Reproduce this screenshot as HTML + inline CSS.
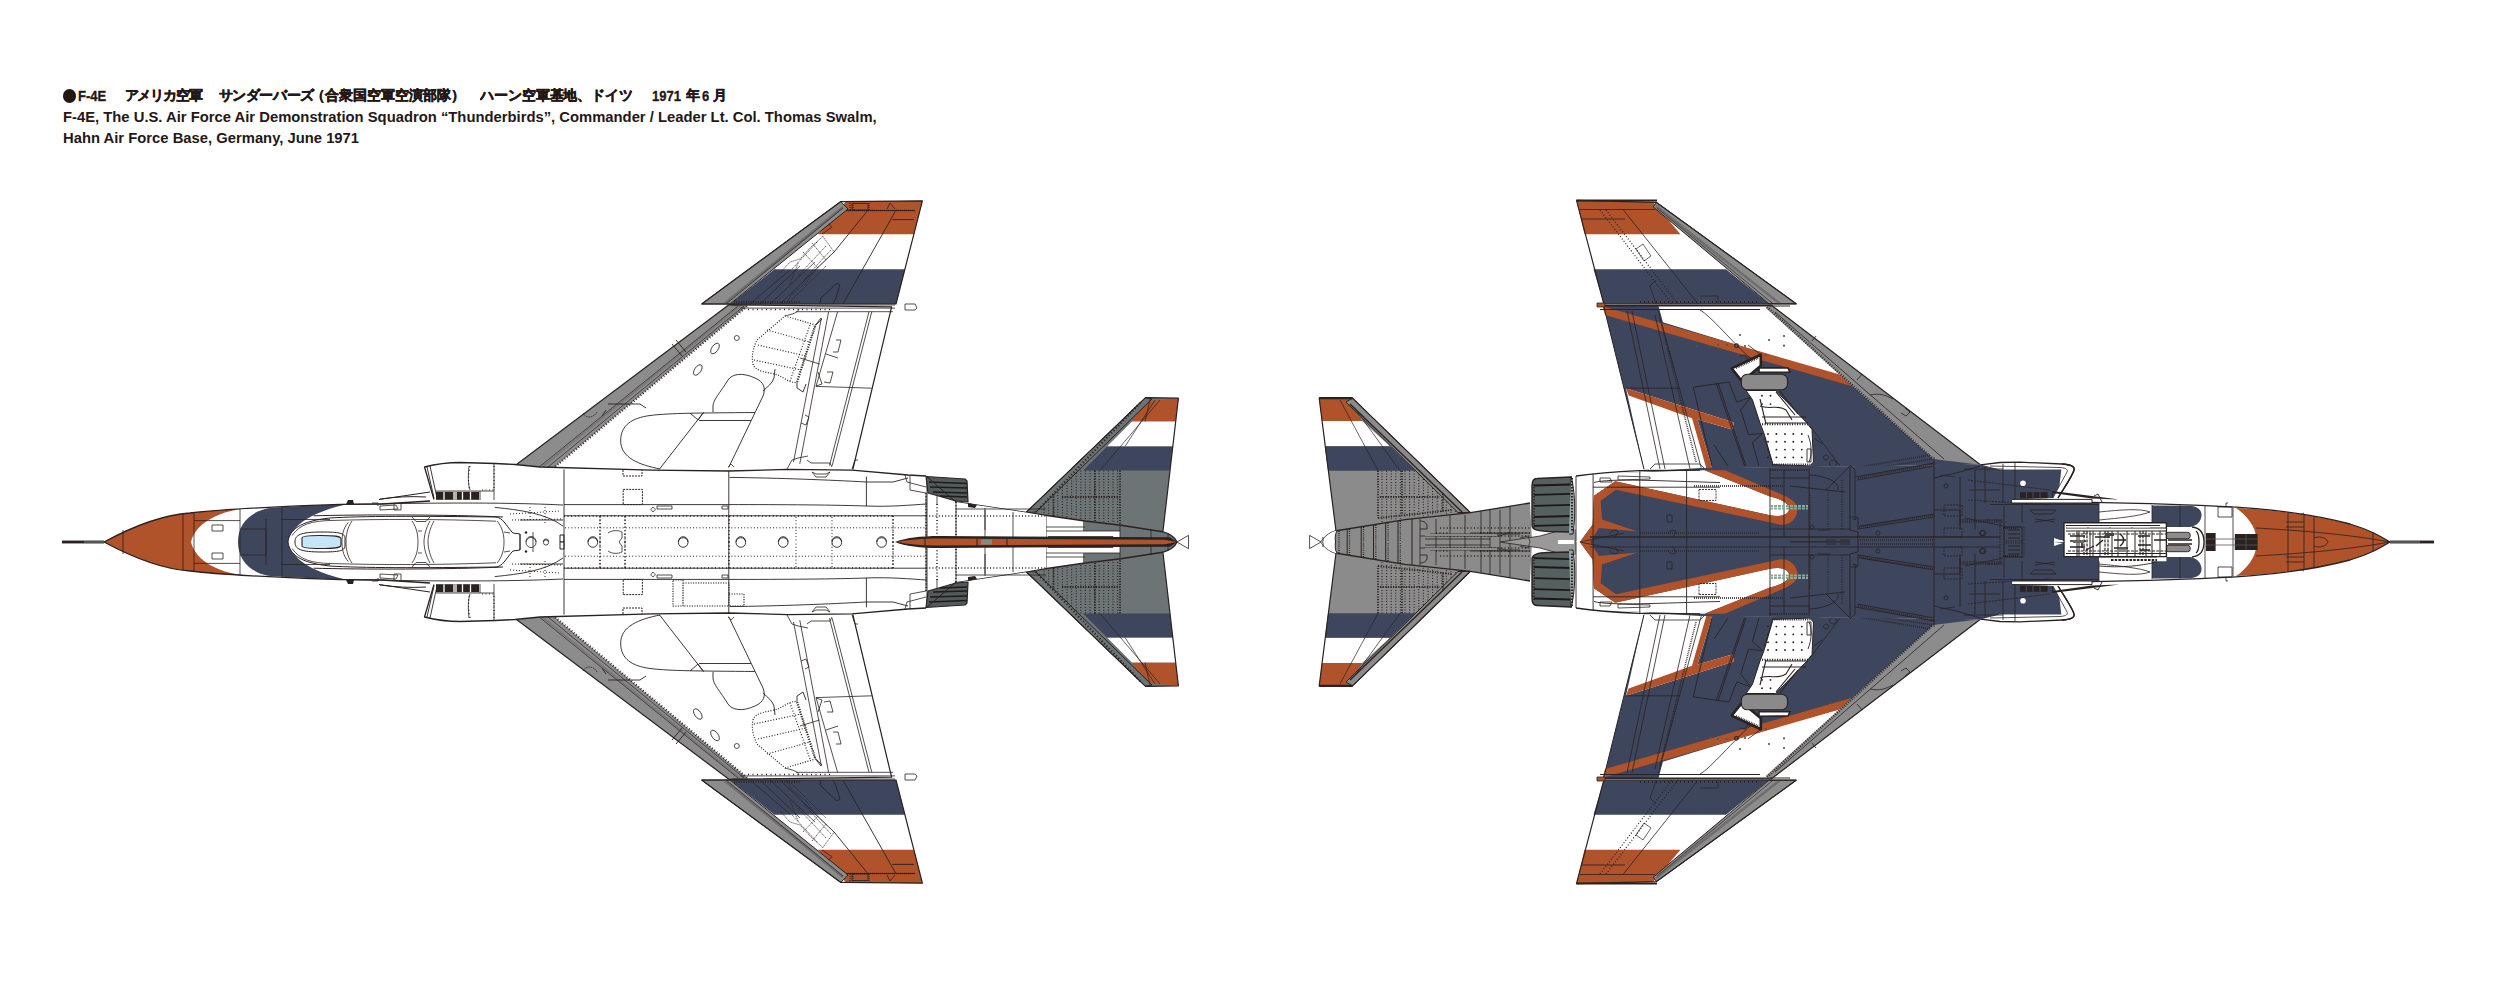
<!DOCTYPE html>
<html><head><meta charset="utf-8">
<style>
html,body{margin:0;padding:0;background:#fff;width:2500px;height:1000px;overflow:hidden}
.t{position:absolute;margin-top:1px;left:63px;font-family:"Liberation Sans",sans-serif;font-weight:bold;color:#231815;white-space:nowrap;font-size:14.8px;line-height:1}
svg{position:absolute;left:0;top:0}
.c{position:absolute;top:88.3px;-webkit-text-stroke:0.3px #231815;font-family:"Liberation Sans",sans-serif;font-weight:bold;color:#231815;white-space:nowrap;font-size:15.2px;line-height:1}
.j{position:absolute;top:88.2px;height:16px;overflow:hidden;-webkit-text-stroke:0.45px #231815;font-family:"Liberation Sans",sans-serif;font-weight:bold;color:#231815;white-space:nowrap;font-size:14px;line-height:1}
</style></head><body>
<div style="position:absolute;left:62.8px;top:89.2px;width:13.4px;height:13.4px;border-radius:50%;background:#231815"></div>
<div class="c" style="left:78px;width:29px"><span style="display:inline-block;transform:scaleX(0.86);transform-origin:0 0">F-4E</span></div>
<div class="j" style="left:124.5px;width:80px;letter-spacing:-1.1px">アメリカ空軍</div>
<div class="j" style="left:218.5px;width:98px;letter-spacing:-0.4px">サンダーバーズ</div>
<div class="j" style="left:311px;width:156px">（合衆国空軍空演部隊）</div>
<div class="j" style="left:480px;width:156px;letter-spacing:-0.1px">ハーン空軍基地、ドイツ</div>
<div class="c" style="left:651.5px"><span style="display:inline-block;transform:scaleX(0.86);transform-origin:0 0">1971</span></div>
<div class="j" style="left:686px;width:15px">年</div>
<div class="c" style="left:702px"><span style="display:inline-block;transform:scaleX(0.86);transform-origin:0 0">6</span></div>
<div class="j" style="left:712.5px;width:15px">月</div>
<div class="t" style="top:109px">F-4E, The U.S. Air Force Air Demonstration Squadron “Thunderbirds”, Commander / Leader Lt. Col. Thomas Swalm,</div>
<div class="t" style="top:130px">Hahn Air Force Base, Germany, June 1971</div>
<svg width="2500" height="1000" viewBox="0 0 2500 1000" stroke-linejoin="round">
<g id="LT"><polygon points="1026,512.5 1145.5,397.6 1178.4,398.2 1163,531 1177,542 1040,542" fill="#6d7476"/>
<polygon points="1141,402 1178.4,398.2 1175.6,421.6 1132,421.6" fill="#b0522a"/>
<polygon points="1132,421.6 1175.6,421.6 1172.6,446.5 1107,446.5" fill="#fff"/>
<polygon points="1107,446.5 1172.6,446.5 1169.8,470.5 1083,470.5" fill="#3e465e"/>
<polygon points="1026,512.5 1145.5,397.6 1152,399 1036,512" fill="#6d7476" stroke="#2a2221" stroke-width="1"/>
<path d="M1036,512 L1141,402" fill="none" stroke="#2a2221" stroke-width="2.2" stroke-dasharray="1.2 2.2"/>
<path d="M1044.0,506.6 V513.6 M1048.6,501.8 V514.3 M1053.2,497.0 V514.9 M1057.8,492.2 V515.6 M1062.4,487.3 V516.2 M1067.0,482.5 V516.9 M1071.6,477.7 V517.6 M1076.2,472.9 V518.2 M1080.8,470.5 V518.9 M1085.4,470.5 V519.5 M1090.0,470.5 V520.1 M1094.6,470.5 V520.6 M1099.2,470.5 V521.2 M1103.8,470.5 V521.7 M1108.4,470.5 V522.2 M1113.0,470.5 V522.8 M1117.6,470.5 V523.3" fill="none" stroke="#2a2221" stroke-width="1.1" stroke-dasharray="1 1.8"/>
<path d="M1053.6,494 V517 M1095,470.5 V522 M1120,470.5 V525 M1062,497 H1120 M1044,517 L1120,526" fill="none" stroke="#2a2221" stroke-width="1.8" stroke-dasharray="1.2 1.4"/>
<polyline points="1026,512.5 1145.5,397.6 1178.4,398.2 1163,531" fill="none" stroke="#2a2221" stroke-width="1.2"/>
<path d="M1145,421.6 L1150,399 M1125,446.5 L1155,400 M1100,470.5 L1160,400" fill="none" stroke="#2a2221" stroke-width="0.7"/>
<path d="M956,502 L1026,512.5 L1085,521 L1121,525.2 L1162.5,531.7 Q1174,535 1177,542 L1046,542 L1046,516.6 Z" fill="#fff"/>
<path d="M1083,520.9 L1121,525.2 L1162.5,531.7 Q1174,535 1177,542 L1120,542 L1120,531 L1083,531 Z" fill="#6d7476"/>
<path d="M956,502 L1026,512.5 L1085,521 L1121,525.2 L1162.5,531.7 Q1174,535 1177,542" fill="none" stroke="#2a2221" stroke-width="1.4"/>
<path d="M1046,516 V542 M1120,525 V542 M1151,529 V542 M1168,533 V542 M1046,531 H1120 M1048,536.5 H1113 L1115,542" fill="none" stroke="#2a2221" stroke-width="0.8"/>
<path d="M1177,542 L1188.5,535.3 L1188.5,542" fill="none" stroke="#2a2221" stroke-width="0.8"/>
<polygon points="701.6,304 840.8,201.6 922.4,200.8 896,304" fill="#fff"/>
<polygon points="846,201.6 922.4,200.8 914,234.4 817.6,234.4" fill="#b0522a"/>
<polygon points="817.6,234.4 914,234.4 905,269.3 774.4,269.3" fill="#fff"/>
<polygon points="774.4,269.3 905,269.3 896,304 730,304" fill="#3e465e"/>
<polygon points="701.6,304 840.8,201.6 848,209 730,304" fill="#8c8c8c" stroke="#2a2221" stroke-width="1"/>
<path d="M724,304 L843,207" fill="none" stroke="#6e6e6e" stroke-width="2.5"/>
<path d="M726,304 L843,208" fill="none" stroke="#2a2221" stroke-width="0.7"/>
<polyline points="701.6,304 840.8,201.6 922.4,200.8 896,304 701.6,304" fill="none" stroke="#2a2221" stroke-width="1.2"/>
<path d="M867.2,211.2 L833.6,252.6 M895.4,211.2 L843.2,303.6 M892.4,219.6 H914 M846,210.5 H915" fill="none" stroke="#2a2221" stroke-width="0.9"/>
<path d="M846,210.5 H915 M850,203 V210 M853,203 V210 M869,203 V210" fill="none" stroke="#2a2221" stroke-width="1.6" stroke-dasharray="0.8 1.2"/>
<path d="M852,203.5 H868 V210 H852 Z M887,209 L890,203 L895,209" fill="none" stroke="#2a2221" stroke-width="0.8"/>
<path d="M822.8,236.4 L834.2,252 L815,270 L806,283 L792,294 L786,304 M822.8,236.4 L810,248 L800,259 L790,262 L780,273 M812,243 L826,260 M803,252 L818,268 M817,242 L806,254 L792,269 M826,246 L812,261 L798,276 M831,250 L818,264 L804,280 M798,263 L790,284 M788,304 L826,266" fill="none" stroke="#2a2221" stroke-width="0.7" stroke-dasharray="1.4 0.7"/>
<path d="M780,304 L834,252 M770,304 L815,262 M760,304 L800,266 M750,304 L790,270" fill="none" stroke="#2a2221" stroke-width="0.7"/>
<path d="M833,304 L836,298 L840,285 L837,283 L821,298 L819.8,304" fill="none" stroke="#2a2221" stroke-width="0.9"/>
<path d="M734,302 L800,302" fill="none" stroke="#2a2221" stroke-width="2.2" stroke-dasharray="0.8 1.6"/>
<path d="M828.8,223.8 L831.8,227.4 L822,234" fill="none" stroke="#2a2221" stroke-width="0.8"/>
<path d="M905,304 H915 L917,308 L915,310 H905 Z" fill="#fff" stroke="#2a2221" stroke-width="0.8"/>
<polygon points="516.8,464.3 728.9,304.7 891.6,306.8 852.8,469.5" fill="#fff"/>
<polygon points="516.8,464.3 728.9,304.7 748,305.5 553,468.5" fill="#8c8c8c"/>
<path d="M541,468 L740,306" fill="none" stroke="#7a7a7a" stroke-width="2.2"/>
<path d="M538,468 L738,306 M548,467 L744,306" fill="none" stroke="#2a2221" stroke-width="0.7"/>
<path d="M553,468.5 L748,305.5" fill="none" stroke="#2a2221" stroke-width="2.4" stroke-dasharray="0.9 2.1"/>
<path d="M608,404 L640,404 L646,408 M602,416 L606,410 M672,344 L682,356 M676,340 L686,352" fill="none" stroke="#2a2221" stroke-width="0.9"/>
<path d="M583,413 C586,419 594,418 597,412" fill="none" stroke="#2a2221" stroke-width="0.8" stroke-dasharray="1.5 0.8"/>
<polyline points="516.8,464.3 728.9,304.7 891.6,306.8 852.8,469.5" fill="none" stroke="#2a2221" stroke-width="1.2"/>
<path d="M740.4,308.1 H895 M796,311.7 H893 M732,305 H895" fill="none" stroke="#2a2221" stroke-width="0.8"/>
<path d="M748,309.5 H830" fill="none" stroke="#2a2221" stroke-width="1.5" stroke-dasharray="1 3.5"/>
<path d="M821.4,318 L793.5,462 M828.6,311.7 L799.8,463.8 M869,311.7 L829.5,465.6 M871.8,311.7 L832.2,465.6 M837.6,311.7 L816,386.4 M816,386.4 L871.8,388.2 M826,354 L838,358" fill="none" stroke="#2a2221" stroke-width="0.8"/>
<path d="M807,460 L811,463 L830,463 L832,467 M836,340 L841,340 L838,352 L833,352 M827,372 L833,372 L830,383 L824,382 M805,415 L809,417 L806,425 L801,423" fill="none" stroke="#2a2221" stroke-width="0.8"/>
<path d="M660,469 C640,465 620,458 620.7,440 C621,425 632,418 650,415.5 C670,413 700,413 754.8,412.5 M703.5,412.5 L659.4,469.2 M690,413 L698,420 L703.5,412.5 M699,420.5 H751" fill="none" stroke="#2a2221" stroke-width="0.9"/>
<path d="M713,412 V406 C713,400 720,393 728,380 C732,374 742,372 755,378 C764,382 766,388 763,396 L728.7,467.4" fill="none" stroke="#2a2221" stroke-width="0.9"/>
<path d="M763,391 C768,386 772,384 774,378 L775,369" fill="none" stroke="#2a2221" stroke-width="0.9"/>
<path d="M728,467 L731,464 L734,467" fill="none" stroke="#2a2221" stroke-width="0.8"/>
<path d="M785,316 L815.5,325 L797,382.5 C790,383 784,378 778,375 C768,372 755,372 753,364 C751,355 754,346 757,340 Z" fill="none" stroke="#2a2221" stroke-width="1.2" stroke-dasharray="1 1.6"/>
<path d="M767,330 L810,342 M758,345 L806,356 M754,360 L801,370 M810,325 L790,381" fill="none" stroke="#2a2221" stroke-width="1.2" stroke-dasharray="1 1.8"/>
<path d="M815,326 L797,382" fill="none" stroke="#2a2221" stroke-width="2.5" stroke-dasharray="0.8 1.6"/>
<path d="M815.5,325 L821,318 M797,382.5 L797,388 L803,392 L806,384" fill="none" stroke="#2a2221" stroke-width="0.9"/>
<path d="M799,309 C798,313 792,314 785,316 M816,325 L822,319 M800,358 L819.6,364 M818,372 L822,384 L816,386" fill="none" stroke="#2a2221" stroke-width="0.8"/>
<circle cx="736.8" cy="338" r="2.5" fill="none" stroke="#2a2221" stroke-width="0.8"/>
<ellipse cx="715" cy="348.5" rx="3.2" ry="6" transform="rotate(35 715 348.5)" fill="none" stroke="#2a2221" stroke-width="0.8"/>
<ellipse cx="697.8" cy="370" rx="3.2" ry="6" transform="rotate(35 697.8 370)" fill="none" stroke="#2a2221" stroke-width="0.8"/>
<path d="M104,542 C130,528 160,515 190,513 C215,510 280,506 340,504.4 L382,504 L430,501 L434,499.5 L424.5,467 C440,463 455,462.5 460,462.5 L495,463.5 L515,464.5 L540,467 L652,470.2 L728.8,471 L788,469.4 L852,470.2 L908,475 L926,476 L956,502 L1026,512.5 L1046,516 L1046,542 Z" fill="#fff"/>
<path d="M104,542 C130,528 160,515 190,513 C215,510 230,509.5 241,509 C220,512 196,522 191,542 Z" fill="#b0522a"/>
<path d="M268,508.2 C300,506 330,504.8 347,504.3 C320,510 292,522 288,542 L238,542 C238,524 250,512 268,508.2 Z" fill="#3e465e"/>
<path d="M104,542 C130,528 160,515 190,513 C215,510 280,506 340,504.4 L382,504 L430,501 M434,499.5 L424.5,467 C440,463 455,462.5 460,462.5 L495,463.5 L515,464.5 L540,467 L652,470.2 L728.8,471 L788,469.4 L852,470.2 L908,475 L926,476" fill="none" stroke="#2a2221" stroke-width="1.3"/>
<path d="M62,542 H104" stroke="#2a2221" stroke-width="2.6"/>
<path d="M84,542 H104" stroke="#777" stroke-width="1.2"/>
<path d="M123,530 V542 M183,514 V542 M194,513 V542 M194,520.6 H240 M240,509 V542 M282,507 V542 M281,519.5 H330" fill="none" stroke="#2a2221" stroke-width="0.8"/>
<rect x="212" y="525" width="11" height="6" fill="none" stroke="#2a2221" stroke-width="0.8"/>
<path d="M240,529 H266 V542 M266,519 V542" fill="none" stroke="#2a2221" stroke-width="0.8"/>
<path d="M288,542 C289,530 300,521 330,518 C360,516 420,516 496,517 C503,518 505,524 512.8,533 L520,534 V542" fill="none" stroke="#2a2221" stroke-width="1"/>
<path d="M313.6,515.8 C360,514.5 450,514.5 503,517" fill="none" stroke="#2a2221" stroke-width="1"/>
<path d="M292,535.6 C300,524 312,521 330,520.5 C380,519 440,519 496,521.2" fill="none" stroke="#2a2221" stroke-width="0.8"/>
<path d="M348.4,522.4 C343,528 342,536 342,542 M352,521 C347,528 346,536 346,542 M412,521 C417,528 418,536 418,542 M430,521 C426,528 424,536 424,542 M434,521 C430,528 428,536 428,542 M497,521 C503,528 504,536 504,542" fill="none" stroke="#2a2221" stroke-width="0.8"/>
<path d="M412,517 L416,521.5 L426,521.5 L430,517 M418,531 H422 M504,532 L510,533" fill="none" stroke="#2a2221" stroke-width="0.8"/>
<path d="M302,538 C302,536 308,535.5 320,535.5 C335,535.5 341,536 341,539 V542 H302 Z" fill="#c5e6f6" stroke="none"/><path d="M302,542 V538 C302,536 308,535.5 320,535.5 C335,535.5 341,536 341,539 V542" fill="none" stroke="#2a2221" stroke-width="1.1"/>
<path d="M295,542 C295,535 300,532 322,532 C338,532 345,533 345,538 V542" fill="none" stroke="#2a2221" stroke-width="1"/>
<path d="M348,504.4 C420,503 500,502 563,505 M494.8,507.4 C520,510 545,513 563,526 M520,520 H563" fill="none" stroke="#2a2221" stroke-width="0.9"/>
<path d="M510,514 L560,511 M512,520 L562,519 M530,507 V521 M545,507 V523" fill="none" stroke="#2a2221" stroke-width="1" stroke-dasharray="1 2"/>
<path d="M520,534 V542 M533,532 V542" fill="none" stroke="#2a2221" stroke-width="0.8"/>
<circle cx="531" cy="541.5" r="5" fill="none" stroke="#2a2221" stroke-width="0.8"/><circle cx="546" cy="541.5" r="2.6" fill="none" stroke="#2a2221" stroke-width="0.8"/><circle cx="526" cy="532.5" r="1.2" fill="#2a2221"/>
<rect x="560" y="535" width="4" height="7" fill="none" stroke="#2a2221" stroke-width="1"/>
<path d="M379,499.5 L430,492 M380,499 C395,497 410,496 426,497" fill="none" stroke="#2a2221" stroke-width="1"/>
<path d="M427,467 L434,498 M430,466 L437,498" fill="none" stroke="#2a2221" stroke-width="0.9"/>
<rect x="436" y="491.8" width="43" height="8" fill="#2a2221"/>
<path d="M444,491.8 V499.8 M454,491.8 V499.8 M456,491.8 V499.8 M462.5,491.8 V499.8 M470.5,491.8 V499.8" stroke="#fff" stroke-width="1.3"/>
<path d="M436,491 H480 V500 M480,491 H494 M494,463.5 V500 M469,466 C468,475 468,485 470,490" fill="none" stroke="#2a2221" stroke-width="0.8"/>
<path d="M494,466 V490 M482,490 H494 M470,466 C468,476 468,485 470,490" fill="none" stroke="#2a2221" stroke-width="1.2" stroke-dasharray="1 2.5"/>
<path d="M380,506 L396,505 L398,509 L380,510 Z M372,503 L378,503 L378,506" fill="none" stroke="#2a2221" stroke-width="0.8"/>
<path d="M394,504 V510 L401,510 V504" fill="none" stroke="#2a2221" stroke-width="0.8"/>
<path d="M346,504.3 L348,500 L353,500 L354,504" fill="#2a2221" stroke="none"/>
<path d="M564,469.4 V542 M728.8,471 V542 M866.4,476.6 V506.2 M927,476 V542" fill="none" stroke="#2a2221" stroke-width="0.9"/>
<path d="M564,504.6 H728.8 C780,504.5 840,505 866,506 C890,507 910,505 927,504 M729.6,477.4 C780,478 830,480 866.4,482 L893,482 L908,478 M564,515.8 H927" fill="none" stroke="#2a2221" stroke-width="0.9"/>
<path d="M565,527.8 H927 M893,515.8 V542 M625,517 V542 M600,517 V542 M832,517 V542 M796,517 V542" fill="none" stroke="#2a2221" stroke-width="1" stroke-dasharray="1 2.2"/>
<path d="M564,516 H893 M600,516 V542 M625,516 V542 M729,516 V542 M893,516 V542" fill="none" stroke="#2a2221" stroke-width="2" stroke-dasharray="0.8 2.8"/>
<circle cx="592.8" cy="541.5" r="4.8" fill="none" stroke="#2a2221" stroke-width="0.9"/>
<circle cx="683.2" cy="541.5" r="4.8" fill="none" stroke="#2a2221" stroke-width="0.9"/>
<circle cx="740.8" cy="541.5" r="4.8" fill="none" stroke="#2a2221" stroke-width="0.9"/>
<circle cx="783.2" cy="541.5" r="4.8" fill="none" stroke="#2a2221" stroke-width="0.9"/>
<circle cx="836.8" cy="541.5" r="4.8" fill="none" stroke="#2a2221" stroke-width="0.9"/>
<circle cx="881.6" cy="541.5" r="4.8" fill="none" stroke="#2a2221" stroke-width="0.9"/>
<path d="M608,533 C612,530 618,530 622,532 L622,538 L619,542" fill="none" stroke="#2a2221" stroke-width="0.8"/>
<path d="M623.2,489.4 H642.4 V504.6 H623.2 Z M623,470 L623,476 H642 V470" fill="none" stroke="#2a2221" stroke-width="1" stroke-dasharray="2 1"/>
<path d="M657,506 H672 V509 H657 Z M653,507.5 A2,2 0 1 0 653.1,507.5 M722,506 H728 V509 H722 Z" fill="none" stroke="#2a2221" stroke-width="0.8"/>
<path d="M812,472 L816,474 H826 L830,472 L826,477 H816 Z" fill="none" stroke="#2a2221" stroke-width="0.8"/>
<path d="M787,469 L792,460 L798,458 L808,456 M852,469 L855,460 M855,460 H858" fill="none" stroke="#2a2221" stroke-width="0.8"/>
<path d="M905,475 L907,482 L926,487" fill="none" stroke="#2a2221" stroke-width="0.8"/>
<path d="M926,493 V542 M956,502 V542 M926,516 H1046 M937,504 V542" fill="none" stroke="#2a2221" stroke-width="1.6" stroke-dasharray="1 2.2"/>
<path d="M985,508 V530 M1013,512 V542 M1046,527 H1085" fill="none" stroke="#2a2221" stroke-width="0.8"/>
<path d="M926,476.5 L965,479 L967,481 L968,502 L956,501 L928,493 Z" fill="#525b5c" stroke="#2a2221" stroke-width="1.2"/>
<path d="M929,482 L967,483.5 M930,487 L967,488 M933,492 L967,493 M940,496 L967,497" stroke="#1e1a1a" stroke-width="1.3"/>
<path d="M926,476 L956,502" fill="none" stroke="#2a2221" stroke-width="1"/>
<path d="M910,475 V490 L926,493 M926,493 V542 M937,496 V505 M956,501 V542 M956,509 H1046 M985,510 V542" fill="none" stroke="#2a2221" stroke-width="0.8"/>
<path d="M968,503 L977,505 L975,508 L968,507 Z" fill="#2a2221"/>
<path d="M895,542 C905,538 920,536 940,536 L1170,537.2 L1177,542 Z" fill="#2a2221"/>
<path d="M897,542 C908,540 920,538.5 940,538.5 L1165,539.7 L1177,542 Z" fill="#b0522a"/>
<path d="M925,538 V542 M977,538 V542 M1007,538 V542" stroke="#2a2221" stroke-width="1"/>
<rect x="981" y="539.5" width="11" height="2.5" fill="#888"/></g>
<use href="#LT" transform="translate(0,1084) scale(1,-1)"/>
<g id="RT"><polygon points="1470.5,512.7 1352.5,398.1 1319.2,398.1 1335.9,530.2 1321,542 1470,542" fill="#8b8b8b"/>
<polygon points="1319.2,398.1 1350,398.1 1362,420.9 1321.8,420.9" fill="#b0522a"/>
<polygon points="1321.8,420.9 1362,420.9 1390,446.2 1325,446.2" fill="#fff"/>
<polygon points="1325,446.2 1390,446.2 1415.4,470.7 1328,470.7" fill="#3e465e"/>
<polygon points="1352.5,398.1 1470.5,512.7 1458,512.5 1346,402" fill="#8b8b8b" stroke="#2a2221" stroke-width="1"/>
<path d="M1350,404 L1462,512" fill="none" stroke="#2a2221" stroke-width="1.4"/>
<path d="M1382.0,470.7 V521.9 M1386.6,470.7 V521.2 M1391.2,470.7 V520.4 M1395.8,470.7 V519.7 M1400.4,470.7 V518.9 M1405.0,470.7 V518.2 M1409.6,470.7 V517.7 M1414.2,470.7 V517.2 M1418.8,474.5 V516.7 M1423.4,479.1 V516.2 M1428.0,483.6 V515.7 M1432.6,488.1 V515.3 M1437.2,492.6 V514.8 M1441.8,497.1 V514.3 M1446.4,501.6 V513.8 M1451.0,506.2 V513.3 M1455.6,510.7 V512.8" fill="none" stroke="#2a2221" stroke-width="1.1" stroke-dasharray="1 1.8"/>
<path d="M1378,470.7 V518 M1402,470.7 V515 M1443,494 V512 M1380,497 H1440 M1378,518 L1452,510" fill="none" stroke="#2a2221" stroke-width="1.8" stroke-dasharray="1.2 1.4"/>
<polyline points="1470.5,512.7 1352.5,398.1 1319.2,398.1 1335.9,530.2" fill="none" stroke="#2a2221" stroke-width="1.2"/>
<path d="M1319.2,398.1 H1352.5" stroke="#2a2221" stroke-width="2.2"/>
<path d="M1340,400 L1378,470.7 M1356,410 L1400,470.7" fill="none" stroke="#2a2221" stroke-width="0.7"/>
<path d="M1321,542 Q1326,534 1335,531 L1405,519.7 L1470.5,512.7 L1530,503 L1532,542 Z" fill="#8b8b8b"/>
<path d="M1321,542 Q1326,534 1335,531 L1405,519.7 L1470.5,512.7 L1530,503" fill="none" stroke="#2a2221" stroke-width="1.3"/>
<path d="M1321,542 Q1326,534 1335,531 L1337,530.8 C1335,534 1335,538 1335.5,542 Z" fill="#fff"/>
<path d="M1337,530.8 C1335,534 1335,538 1335.5,542" fill="none" stroke="#2a2221" stroke-width="1"/>
<path d="M1347.2,529 V542 M1361.2,527 V542 M1373.5,525 V542 M1385.7,523 V542 M1398,521 V542 M1412,519 V542" fill="none" stroke="#2a2221" stroke-width="1"/>
<path d="M1339,531 V542 M1349.5,529 V542 M1363.5,527 V542 M1375.8,525 V542 M1388,523 V542 M1400.3,521 V542" fill="none" stroke="#2a2221" stroke-width="1.3" stroke-dasharray="0.9 1.2"/>
<path d="M1430,534 H1520 M1425,539 H1490 M1436,519 V542 M1465,515 V542 M1500,510 V542" fill="none" stroke="#2a2221" stroke-width="0.8"/>
<path d="M1440,528 H1530 M1440,536 H1530" fill="none" stroke="#2a2221" stroke-width="1.6" stroke-dasharray="1 2.4"/>
<path d="M1420,519 V542 M1450,515 V542 M1481,511 V542 M1490,509 V542 M1510,506 V542 M1420,536 H1500 M1500,536 L1510,532 M1470,533 H1530" fill="none" stroke="#2a2221" stroke-width="0.8"/>
<path d="M1425,535 H1497" stroke="#8b8b8b" stroke-width="2"/>
<path d="M1480,533 H1530 M1436,533 H1450" fill="none" stroke="#2a2221" stroke-width="1.5" stroke-dasharray="1 2.5"/>
<path d="M1420,521 C1424,521 1427,523 1427,526 V529 H1420" fill="none" stroke="#2a2221" stroke-width="0.9"/>
<path d="M1321,542 L1309.6,535.4 V542 M1322.7,537 A4,5 0 0 1 1322.7,542" fill="none" stroke="#2a2221" stroke-width="0.8"/>
<path d="M1500,542 L1540,536 L1572,527 L1576,530 V542 Z" fill="#999"/>
<path d="M1500,542 L1540,536 L1572,527" fill="none" stroke="#2a2221" stroke-width="0.8"/>
<rect x="1558" y="540" width="16" height="2" fill="#fff"/>
<path d="M1520,538 L1528,536 L1530,542" fill="none" stroke="#2a2221" stroke-width="0.7"/>
<path d="M1537,478.5 L1571,477 V532 L1548,531.5 C1538,531 1532,530 1532,525 V486 C1532,481 1533,478.5 1537,478.5 Z" fill="#566061" stroke="#2a2221" stroke-width="1.4"/>
<path d="M1534,485.5 L1571,484.5" stroke="#1c1818" stroke-width="1.8"/>
<path d="M1534,494.8 L1571,493.8" stroke="#1c1818" stroke-width="1.8"/>
<path d="M1534,505.9 L1571,504.9" stroke="#1c1818" stroke-width="1.8"/>
<path d="M1534,517 L1571,516" stroke="#1c1818" stroke-width="1.8"/>
<path d="M1534,525.9 L1571,524.9" stroke="#1c1818" stroke-width="1.8"/>
<path d="M1571,476 C1575,490 1576,515 1573,534 L1569,534" fill="#9aa" stroke="#2a2221" stroke-width="1"/>
<path d="M1572,478 V532" stroke="#2a2221" stroke-width="2" stroke-dasharray="1.5 1.5"/>
<path d="M1534,484 V528" stroke="#2a2221" stroke-width="1.5" stroke-dasharray="1.5 1.5"/>
<polygon points="1576.5,200.4 1656.5,202.4 1796.2,303.8 1603.8,303.8" fill="#fff"/>
<polygon points="1576.5,200.4 1653,202 1680.5,234.2 1584.5,234.2" fill="#b0522a"/>
<polygon points="1593.5,269.3 1726,269.3 1769,303.8 1603.8,303.8" fill="#3e465e"/>
<polygon points="1656.5,202.4 1796.2,303.8 1769,303.8 1653.2,206.9" fill="#8c8c8c" stroke="#2a2221" stroke-width="1"/>
<path d="M1656,206 L1780,303.8" fill="none" stroke="#6e6e6e" stroke-width="2.5"/>
<path d="M1657,208 L1773,303.8" fill="none" stroke="#2a2221" stroke-width="0.7"/>
<polyline points="1603.8,303.8 1576.5,200.4 1656.5,202.4 1796.2,303.8 1603.8,303.8" fill="none" stroke="#2a2221" stroke-width="1.2"/>
<path d="M1576.5,200.4 H1657" stroke="#2a2221" stroke-width="2"/>
<path d="M1623,209.5 L1697.4,303 M1580,209.5 H1655 M1582,219 H1625" fill="none" stroke="#2a2221" stroke-width="0.8"/>
<path d="M1600,210 L1672,304 M1606,210 L1678,304" fill="none" stroke="#2a2221" stroke-width="1.2" stroke-dasharray="1 2"/>
<path d="M1636,249 L1643,244 L1651,256 L1644,261 Z M1700,296 H1718 V303 M1656,303.8 L1650,286 L1656,280" fill="none" stroke="#2a2221" stroke-width="0.7"/>
<polygon points="1603.5,305.4 1771.4,305.2 1980.4,464.8 1644,469.2" fill="#3e465e"/>
<polygon points="1658.4,305.4 1771.4,305.2 1845,378 1662.9,322.3" fill="#fff"/>
<polygon points="1602.6,306.3 1839.7,374.4 1852.8,386.4 1605,315" fill="#b0522a"/>
<polygon points="1626,388.2 1734,422.4 1732.2,429.6 1697.5,419.6 1712.6,469.2 1644,469.2" fill="#fff"/>
<polygon points="1626,388.2 1734,422.4 1732.2,429.6 1697.5,419.6 1712.6,469.2 1706.6,469.2 1692,418.2 1628.7,395.4" fill="#b0522a"/>
<polygon points="1771.4,305.2 1980.4,464.8 1933,459 1765.7,308" fill="#8c8c8c"/>
<path d="M1767,307 L1933,459" fill="none" stroke="#2a2221" stroke-width="2.4" stroke-dasharray="0.9 1.6"/>
<path d="M1775,312 L1944,459 M1812,341 L1816,336 M1857,380 L1862,374" fill="none" stroke="#2a2221" stroke-width="0.8"/>
<path d="M1870,395 C1880,393 1885,395 1893,399 M1905,408 L1910,412 L1906,416 L1901,413" fill="none" stroke="#2a2221" stroke-width="0.8"/>
<polyline points="1603.5,305.4 1771.4,305.2 1980.4,464.8" fill="none" stroke="#2a2221" stroke-width="1.2"/>
<path d="M1603.5,305.4 L1644,469.2" fill="none" stroke="#2a2221" stroke-width="1"/>
<path d="M1598,306 H1790 M1600,309.5 H1760" fill="none" stroke="#2a2221" stroke-width="1"/>
<path d="M1640,302 H1760" stroke="#2a2221" stroke-width="1.8" stroke-dasharray="1 3"/>
<rect x="1597" y="303" width="8" height="4" fill="#b0522a" stroke="#2a2221" stroke-width="0.8"/>
<path d="M1627,311 L1660,469 M1632,311 L1665,469 M1658.4,311 L1701.6,469.2 M1626,388.2 H1680 M1655,315 L1690,469" fill="none" stroke="#2a2221" stroke-width="0.8"/>
<path d="M1660,318 L1696,462" stroke="#2a2221" stroke-width="1.6" stroke-dasharray="0.8 1"/>
<path d="M1650,469 L1655,464 H1700 L1705,469" fill="none" stroke="#2a2221" stroke-width="0.8"/>
<path d="M1700,310 C1710,315 1735,345 1750,358 M1740,356 L1745,355 L1748,360" fill="none" stroke="#2a2221" stroke-width="0.8"/>
<circle cx="1697" cy="346" r="1.1" fill="#555"/>
<circle cx="1710" cy="346" r="1.1" fill="#555"/>
<circle cx="1718" cy="345" r="1.1" fill="#555"/>
<circle cx="1727" cy="345" r="1.1" fill="#555"/>
<circle cx="1740" cy="335" r="1.1" fill="#555"/>
<circle cx="1745" cy="346" r="1.1" fill="#555"/>
<circle cx="1769" cy="340" r="1.1" fill="#555"/>
<circle cx="1784" cy="345.7" r="1.1" fill="#555"/>
<circle cx="1766" cy="355" r="1.1" fill="#555"/>
<circle cx="1784" cy="336" r="1.1" fill="#555"/>
<circle cx="1736.5" cy="345.7" r="1.8" fill="none" stroke="#2a2221" stroke-width="1.2"/>
<path d="M1693.2,387.2 L1729,382 L1736.8,402.2 L1751,397 L1740.7,410 L1748.5,434.7 L1762.8,433.4 L1752.4,442.5 L1758.9,465.9 M1716,382.7 L1744.6,465.9 M1718,383 L1746,465.9 M1693.2,387.2 L1712,466 M1714,445 L1728,466" fill="none" stroke="#2a2221" stroke-width="0.9"/>
<path d="M1746,390.5 L1775.8,390.5 L1807,423 L1812,429.5 L1813.5,462 L1809.6,465.9 L1773,464.6 L1764,433.4 L1760,423 L1752.4,399.6 Z" fill="#fff" stroke="#2a2221" stroke-width="1"/>
<path d="M1731.6,368.4 L1760.8,354.7 L1760.8,365.8 L1742,381.4 Z" fill="#fff" stroke="#2a2221" stroke-width="2.6"/>
<path d="M1736,368 L1758,358" stroke="#2a2221" stroke-width="2" stroke-dasharray="0.8 1"/>
<path d="M1759,367.7 L1788,368 L1790,372.3 L1759,372.3 Z" fill="#fff" stroke="#2a2221" stroke-width="1.6"/>
<rect x="1741.3" y="374.2" width="46.2" height="15.6" rx="6" fill="#8a8a8a" stroke="#2a2221" stroke-width="1.1"/>
<path d="M1760,406 C1770,410 1778,404 1786,410 L1792,420 M1776,392 L1795,415 M1780,391 L1798,414 M1762,417 H1806 M1760,399 L1766,424 M1765,423 H1808" fill="none" stroke="#2a2221" stroke-width="1.1"/>
<circle cx="1762" cy="395.7" r="0.95" fill="#2a2221"/>
<circle cx="1770.5" cy="395.7" r="0.95" fill="#2a2221"/>
<circle cx="1762" cy="404.1" r="0.95" fill="#2a2221"/>
<circle cx="1770.5" cy="404.1" r="0.95" fill="#2a2221"/>
<path d="M1762,424.3 H1808" stroke="#2a2221" stroke-width="2" stroke-dasharray="1.1 1.4"/>
<circle cx="1768" cy="434" r="0.95" fill="#2a2221"/>
<circle cx="1776.4" cy="434" r="0.95" fill="#2a2221"/>
<circle cx="1785" cy="434" r="0.95" fill="#2a2221"/>
<circle cx="1793.3" cy="434" r="0.95" fill="#2a2221"/>
<circle cx="1801.8" cy="434" r="0.95" fill="#2a2221"/>
<circle cx="1768" cy="441.8" r="0.95" fill="#2a2221"/>
<circle cx="1776.4" cy="441.8" r="0.95" fill="#2a2221"/>
<circle cx="1785" cy="441.8" r="0.95" fill="#2a2221"/>
<circle cx="1793.3" cy="441.8" r="0.95" fill="#2a2221"/>
<circle cx="1801.8" cy="441.8" r="0.95" fill="#2a2221"/>
<circle cx="1768" cy="449.6" r="0.95" fill="#2a2221"/>
<circle cx="1776.4" cy="449.6" r="0.95" fill="#2a2221"/>
<circle cx="1785" cy="449.6" r="0.95" fill="#2a2221"/>
<circle cx="1793.3" cy="449.6" r="0.95" fill="#2a2221"/>
<circle cx="1801.8" cy="449.6" r="0.95" fill="#2a2221"/>
<circle cx="1768" cy="457.4" r="0.95" fill="#2a2221"/>
<circle cx="1776.4" cy="457.4" r="0.95" fill="#2a2221"/>
<circle cx="1785" cy="457.4" r="0.95" fill="#2a2221"/>
<circle cx="1793.3" cy="457.4" r="0.95" fill="#2a2221"/>
<circle cx="1801.8" cy="457.4" r="0.95" fill="#2a2221"/>
<path d="M1772,464.6 H1810" stroke="#2a2221" stroke-width="2" stroke-dasharray="1 1.2"/>
<path d="M1808,435 C1812,445 1812,455 1809,462 M1764,438 C1768,448 1770,456 1772,462 M1807,449 H1811 V462 H1807 Z" fill="none" stroke="#2a2221" stroke-width="0.9"/>
<path d="M1810,426 L1840,466 M1826,455 A2.5,2.5 0 1 0 1826.1,455 M1833,460 A3.5,3.5 0 1 0 1833.1,460 M1814,438 L1822,444" fill="none" stroke="#2a2221" stroke-width="0.8"/>
<path d="M1860,467 L1930,455 M1862,470 L1933,459" stroke="#2a2221" stroke-width="1.8" stroke-dasharray="0.8 1.2"/>
<path d="M1748,345 L1760,354" fill="none" stroke="#2a2221" stroke-width="0.8"/>
<path d="M1576,476 C1590,474 1610,472 1639,470.6 L1694,468.5 L1980.4,464.8 L2000,462.5 L2020,462.2 L2062,464 C2071,464.5 2075,466.5 2074,470 C2073,475 2064,488 2058,498 L2052.4,491 L2092,502.4 L2149.6,503.6 L2200,505.4 L2236,507.2 C2280,510 2320,516 2350,524 C2370,530 2380,536 2390,542 L1576,542 Z" fill="#fff"/>
<path d="M1576,476 L1700,468 L1980.4,464.4 L2000,469.4 L2062,469.4 C2067,468 2068,470 2067,472 C2064,478 2058,488 2053,498 L2011,499.4 V503 L2099,503 V542 L1576,542 Z" fill="#3e465e"/>
<path d="M2152,505.4 L2190,505.8 C2199,506.5 2202,511 2201.5,516 C2201,521 2197,526 2190,527 L2166.4,527 V522.8 H2152 Z" fill="#3e465e"/>
<path d="M1576,476 L1593,473.5 L1704.6,470.2 L1770,496.5 C1784,500 1789,504 1789,509 C1789,514 1782,517.5 1770,515.2 L1615.2,481.2 L1594,495.7 L1592.7,524.6 L1579.5,542.4 L1576,542.4 Z" fill="#fff"/>
<path d="M1704.6,470.2 L1725,470.2 L1784.5,495.7 C1794,500 1798,505 1797.5,510 C1797,518 1791,525.5 1780,524.8 L1772.6,522.9 L1616,489.7 L1600.7,500.8 L1602,519.5 L1637.3,531.4 L1599,528 L1589.7,542.4 L1579.5,542.4 L1592.7,524.6 L1594,495.7 L1615.2,481.2 L1770,515.2 C1782,517.5 1789,514 1789,509 C1789,504 1784,500 1770,496.5 Z" fill="#b0522a"/>
<path d="M1576,476 C1590,474 1610,472 1639,470.6 L1700,470.2" fill="none" stroke="#2a2221" stroke-width="1.3"/>
<path d="M1576,476 V542 M1593.1,474 V542 M1639.8,471 V542 M1686.6,470 V542 M1594,482.5 C1610,478 1660,481 1720,482.5 M1593,487.2 H1720" fill="none" stroke="#2a2221" stroke-width="0.9"/>
<path d="M1600,478 L1610,478 L1612,482 H1600 Z M1618,476 L1650,477 L1650,479 L1618,480 Z" fill="none" stroke="#2a2221" stroke-width="0.8"/>
<path d="M1694,486 H1784" stroke="#2a2221" stroke-width="1.8" stroke-dasharray="0.8 1.2"/>
<rect x="1699" y="489.5" width="17" height="11" fill="none" stroke="#2a2221" stroke-width="0.9" stroke-dasharray="2 1"/>
<path d="M1590,537 H2000 M1590,547 H2000" fill="none" stroke="#2a2221" stroke-width="0.8"/>
<path d="M1640,533 H1760 M1700,533 H1760" stroke="#2a2221" stroke-width="1.6" stroke-dasharray="0.8 1.2"/>
<path d="M1610,534 C1610,530 1618,529 1618,532 L1615,537 M1668,534 C1668,530 1676,529 1676,532 L1673,537 M1667,522 V515 H1672 V522 Z" fill="none" stroke="#2a2221" stroke-width="0.8"/>
<path d="M1624,533 L1580,542" stroke="#2a2221" stroke-width="0.8"/>
<path d="M1770,468 V542 M1809,468 V542 M1784,470 V537 M1770,478 H1809 M1790,486 L1845,492 M1809,475 C1830,476 1840,484 1838,490 M1826,490 L1850,466 M1850,466 V530 L1858,532 V542" fill="none" stroke="#2a2221" stroke-width="0.9"/>
<path d="M1770,470 H1808" stroke="#2a2221" stroke-width="1.8" stroke-dasharray="0.8 1"/>
<path d="M1770,508.5 H1808 M1770,506 H1808" stroke="#8a9" stroke-width="2.2" stroke-dasharray="3 1"/>
<path d="M1770,529 H1850 M1850,517 H1858 M1790,542 H1850 M1812,525 A2,2 0 1 0 1812.1,525 M1817,530 H1830" fill="none" stroke="#2a2221" stroke-width="0.8"/>
<path d="M1810,495 V530 M1828,490 V530 M1842,480 V530" stroke="#2a2221" stroke-width="1.4" stroke-dasharray="0.8 1.6"/>
<path d="M1853,520 L1858,518 V530 M1826,540 H1836 M1840,540 H1850" fill="none" stroke="#2a2221" stroke-width="0.8"/>
<path d="M1850,465 L1855,470 L1855,520" fill="none" stroke="#2a2221" stroke-width="0.8"/>
<path d="M1855,477 L1934,463 M1857,480 L1934,466 M1858,529 L1934,517 M1860,526 L1934,514 M1934,457 V542 M1934,478 L1960,472 L1980,466 M1934,510 H1960 V530 M1960,477 V526 M1975,470 V530" fill="none" stroke="#2a2221" stroke-width="0.9"/>
<path d="M1858,478 L1934,464 M1859,527 L1934,515 M1860,540 H1934" stroke="#2a2221" stroke-width="1.6" stroke-dasharray="0.8 1.2"/>
<circle cx="1878" cy="533" r="2" fill="none" stroke="#2a2221" stroke-width="0.8"/><circle cx="1946" cy="486" r="2" fill="none" stroke="#2a2221" stroke-width="0.8"/><circle cx="1982" cy="533" r="2.5" fill="none" stroke="#2a2221" stroke-width="0.8"/>
<path d="M1944,528 H1962 V537 H1944 Z M1944,505 H1962 V516 H1944 Z M1968,480 L2050,490 M1968,500 L2050,505 M1985,520 H2000 V542" fill="none" stroke="#2a2221" stroke-width="0.9" stroke-dasharray="2 1"/>
<path d="M1965,518 L2003,526 M1969,490 H2000 M1940,475 L1955,477" fill="none" stroke="#2a2221" stroke-width="0.8"/>
<path d="M2004,527 H2022 V542" fill="none" stroke="#2a2221" stroke-width="0.9"/>
<path d="M2003,528 H2018" stroke="#2a2221" stroke-width="2" stroke-dasharray="1 1"/>
<path d="M2062,464 C2071,464.5 2075,466.5 2074,470 C2073,475 2064,488 2058,498" fill="#fff" stroke="#2a2221" stroke-width="1.3"/>
<path d="M1980.4,464.8 L2000,462.5 L2020,462.2 L2062,464 C2071,464.5 2075,466.5 2074,470 C2073,475 2064,488 2058,498" fill="none" stroke="#2a2221" stroke-width="1.3"/>
<path d="M1990,466 L2060,467.5 C2067,468 2068,470 2067,472 C2064,478 2058,488 2053,498 M2003,464 V503 M2015,463 V503 M1964,469 H2003 M1985,467 V503" fill="none" stroke="#2a2221" stroke-width="0.8"/>
<rect x="2020" y="492.2" width="27.6" height="6" fill="#2a2221"/>
<path d="M2026.5,492.2 V498.2 M2033,492.2 V498.2 M2040,492.2 V498.2" stroke="#3e465e" stroke-width="1.2"/>
<circle cx="2023" cy="483.2" r="2.8" fill="#fff"/>
<path d="M2052.4,491 L2119.6,499.4 L2092,498.5 L2052.4,493 Z" fill="#2a2221"/>
<path d="M2011.6,499.4 H2092 V503 H2011.6 Z" fill="#fff" stroke="#2a2221" stroke-width="1"/>
<path d="M2052.4,491 L2052.4,498 M2094,496 L2098,494 L2102,502" fill="none" stroke="#2a2221" stroke-width="0.9"/>
<path d="M2092,502.4 L2149.6,503.6 L2200,505.4 L2236,507.2" fill="none" stroke="#2a2221" stroke-width="1.2"/>
<path d="M1990,504.5 H2099 M2004,506 V542 M2022,504 V523 M2099,503 V523 M2099,512 C2120,510 2140,508 2150,512 C2140,516 2120,518 2099,520 M2152,505 V523 M2180,505.4 V527" fill="none" stroke="#2a2221" stroke-width="0.8"/>
<path d="M2030,510 H2056 L2052,514 H2034 Z M2035,519 L2055,522 M2035,522 L2055,519" fill="none" stroke="#2a2221" stroke-width="0.8"/>
<path d="M1960,520 H2003 M1960,522 H2003" stroke="#2a2221" stroke-width="1.6" stroke-dasharray="0.8 1"/>
<rect x="2004" y="527" width="20" height="14" fill="none" stroke="#2a2221" stroke-width="0.9" stroke-dasharray="1.2 1"/>
<path d="M2008,530 H2020 M2008,534 H2020 M2008,538 H2020" stroke="#2a2221" stroke-width="1.2"/>
<circle cx="1983" cy="533" r="2.8" fill="none" stroke="#2a2221" stroke-width="0.8"/>
<path d="M2054,538 L2063,541 L2054,542" fill="#fff"/>
<rect x="2165.7" y="532.3" width="24.5" height="6.4" rx="2.5" fill="#8c8c8c" stroke="#2a2221" stroke-width="0.9"/>
<path d="M2192,527 C2201,528 2204,534 2204,542 M2196,531 C2199,533 2199,538 2199,542 M2168,540 H2192" fill="none" stroke="#2a2221" stroke-width="1.3"/>
<path d="M2236,508 C2280,510 2320,516 2350,524 C2370,530 2380,536 2390,542 L2256,542 C2258,530 2248,516 2236,508 Z" fill="#b0522a"/>
<path d="M2236,507.2 C2280,510 2320,516 2350,524 C2370,530 2380,536 2390,542" fill="none" stroke="#2a2221" stroke-width="1.3"/>
<path d="M2205,506 V542 M2233,508 V542 M2288,512 V542 M2304,514 V542 M2314,516 V542 M2373,533 V542 M2256,528 C2290,530 2340,533 2390,542 M2314,538 C2318,536 2326,537 2328,542" fill="none" stroke="#2a2221" stroke-width="0.8"/>
<path d="M2218,507 H2232 V517 H2218 Z M2226,507 L2226,503 L2228,503" fill="none" stroke="#2a2221" stroke-width="0.8"/>
<rect x="2206" y="533" width="9.6" height="9" fill="#2a2221"/><rect x="2234.8" y="534" width="22.8" height="8" fill="#2a2221"/><path d="M2246,534 V542 M2206,539 H2258" stroke="#555" stroke-width="0.8"/>
<path d="M2300,515 L2304,513 M2286,522 H2304 M2286,527 H2304" fill="none" stroke="#2a2221" stroke-width="0.8"/>
<path d="M2390,542 H2434" stroke="#2a2221" stroke-width="2.6"/>
<path d="M2390,542 H2420" stroke="#777" stroke-width="1.2"/></g>
<use href="#RT" transform="translate(0,1084) scale(1,-1)"/><rect x="2064" y="522.7" width="102.4" height="33.9" fill="#fff" stroke="#2a2221" stroke-width="1.4"/>
<path d="M2066,525.5 H2160 M2066,528 H2166 M2066,531 H2166 M2066,553.5 H2166" fill="none" stroke="#2a2221" stroke-width="1"/>
<path d="M2067,527 H2150 M2068,529.5 H2166" stroke="#fff" stroke-width="1.2" stroke-dasharray="20 2"/>
<path d="M2077,531 V556 M2079,531 V556 M2090,531 V556 M2093,531 V556 M2100,531 V556 M2112,531 V556 M2118,531 V556 M2127,531 V556 M2135,531 V556 M2146,531 V556 M2152,531 V556 M2160,531 V556" fill="none" stroke="#2a2221" stroke-width="1"/>
<path d="M2070,536 H2085 M2070,541 H2086 M2070,547 H2085 M2095,537 H2110 M2096,546 L2103,540 M2114,540 H2126 M2114,548 H2128 M2138,536 H2150 M2138,545 H2151 M2154,540 H2166 M2082,540 V548" fill="none" stroke="#2a2221" stroke-width="1.6"/>
<path d="M2068,534 H2166 M2068,551 H2166 M2084,531 V556 M2087,531 V556 M2105,531 V556 M2108,531 V556 M2140,531 V556 M2143,531 V556" fill="none" stroke="#2a2221" stroke-width="1.2" stroke-dasharray="3 1.2"/>
<rect x="2073" y="540" width="11" height="3" fill="#666"/><rect x="2117" y="549" width="10" height="3" fill="#888"/><rect x="2105" y="533" width="9" height="3" fill="#444"/>
<path d="M2086,550 L2094,546 M2120,534 C2125,538 2125,542 2120,546 M2140,550 H2150" fill="none" stroke="#2a2221" stroke-width="1.3"/>
<path d="M2064,542 H2054 L2062,540 Z" fill="#fff"/>
<path d="M2099,557 H2157 M2099,566 C2120,568 2140,566 2157,562" fill="none" stroke="#2a2221" stroke-width="0.9"/>
<path d="M2111,560 H2157" stroke="#2a2221" stroke-width="2" stroke-dasharray="2.5 1.2"/>
<path d="M673,580 H683 V606 H673 Z M683,583 H729 V606 H683 Z M729,594 H744 V606 H729 Z" fill="none" stroke="#2a2221" stroke-width="1.1" stroke-dasharray="1.2 1.3"/>
</svg>
</body></html>
